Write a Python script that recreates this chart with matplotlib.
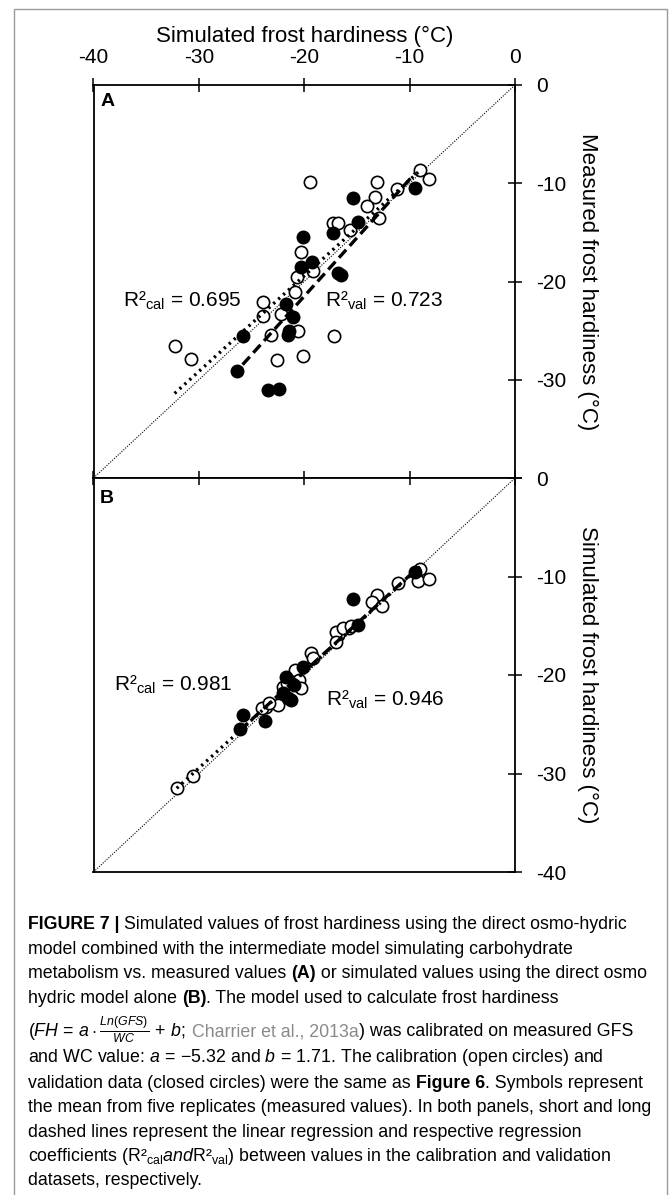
import numpy as np
import matplotlib
matplotlib.use("Agg")
import matplotlib.pyplot as plt
from matplotlib import font_manager
from matplotlib.patches import Rectangle

W, H, DPI = 669, 1195, 100

plt.rcParams["font.family"] = ["Liberation Sans", "DejaVu Sans"]
plt.rcParams["axes.unicode_minus"] = False
plt.rcParams["mathtext.fontset"] = "custom"
plt.rcParams["mathtext.rm"] = "Liberation Sans"
plt.rcParams["mathtext.it"] = "Liberation Sans:italic"
plt.rcParams["mathtext.bf"] = "Liberation Sans:bold"

# Panel A: intermediate carbohydrate model + osmo-hydric model vs measured
a_cal_x = [-19.5, -13.1, -13.3, -14.0, -11.2, -9.0, -8.2, -12.9, -17.25, -16.8,
           -15.7, -20.3, -19.2, -20.7, -20.9, -23.95, -23.95, -22.2, -23.2, -20.6,
           -17.2, -32.3, -30.75, -22.6, -20.15]
a_cal_y = [-9.9, -9.9, -11.4, -12.3, -10.6, -8.7, -9.6, -13.5, -14.0, -14.0,
           -14.8, -17.0, -18.9, -19.5, -21.1, -22.1, -23.5, -23.3, -25.4, -25.0,
           -25.5, -26.6, -27.9, -28.0, -27.6]
a_val_x = [-15.4, -14.9, -17.3, -20.15, -19.3, -20.3, -16.8, -16.5, -21.7, -21.1,
           -21.5, -21.4, -25.85, -26.4, -23.4, -22.4, -9.5]
a_val_y = [-11.5, -13.9, -15.1, -15.5, -18.0, -18.5, -19.1, -19.3, -22.3, -23.6,
           -25.4, -25.0, -25.5, -29.1, -31.0, -30.9, -10.45]

# Panel B: osmo-hydric model alone vs measured
b_cal_x = [-13.1, -13.6, -12.65, -11.1, -9.0, -9.2, -8.2, -16.8, -15.8, -17.0,
           -16.3, -15.6, -17.0, -19.4, -19.2, -20.85, -23.6, -22.45, -32.1, -30.6,
           -22.0, -21.6, -20.5, -20.3, -24.0, -23.3]
b_cal_y = [-11.85, -12.6, -13.0, -10.7, -9.2, -10.5, -10.3, -15.9, -15.2, -15.6,
           -15.2, -15.0, -16.6, -17.8, -18.3, -19.5, -23.2, -23.05, -31.5, -30.3,
           -21.2, -20.8, -20.5, -21.3, -23.4, -22.8]
b_val_x = [-15.35, -9.5, -14.9, -20.1, -21.75, -25.8, -26.1, -23.7, -21.5,
           -21.0, -22.0, -21.3]
b_val_y = [-12.3, -9.5, -14.9, -19.2, -20.2, -24.1, -25.5, -24.7, -22.3,
           -21.0, -21.8, -22.5]

# regression lines: slope, intercept, x range
a_cal_fit = (0.974, 0.07, -32.3, -9.0)
a_val_fit = (1.19, 2.3, -25.85, -9.5)
b_cal_fit = (0.974, -0.23, -32.1, -9.0)
b_val_fit = (0.976, -0.13, -26.1, -9.5)

a_r2 = ("0.695", "0.723")
b_r2 = ("0.981", "0.946")

ticks = [-40, -30, -20, -10, 0]
tick_labels = ["-40", "-30", "-20", "-10", "0"]

fig = plt.figure(figsize=(W / DPI, H / DPI), dpi=DPI)


def px_axes(left, top, right, bottom):
    return fig.add_axes([left / W, 1 - bottom / H, (right - left) / W, (bottom - top) / H])


ax_a = px_axes(93.5, 85, 515, 478)
ax_b = px_axes(93.5, 478, 515, 872)


def draw_panel(ax, cal_x, cal_y, val_x, val_y, cal_fit, val_fit):
    ax.set_xlim(-40, 0)
    ax.set_ylim(-40, 0)
    ax.plot([-40, 0], [-40, 0], color="black", lw=0.8, ls=(0, (1, 1.3)), zorder=1)
    ax.scatter(cal_x, cal_y, s=78, facecolors="white", edgecolors="black",
               linewidths=1.2, zorder=3)
    ax.scatter(val_x, val_y, s=78, facecolors="black", edgecolors="black",
               linewidths=1.2, zorder=3)
    for (k, b, x0, x1), ls in ((cal_fit, (0, (0.7, 1.3))), (val_fit, (0, (3.2, 1.6)))):
        xs = np.array([x0, x1])
        ax.plot(xs, k * xs + b, color="black", lw=2.4, ls=ls, zorder=4)
    for sp in ax.spines.values():
        sp.set_linewidth(1.3)
    ax.set_xticks(ticks)
    ax.tick_params(axis="both", direction="inout", length=10, width=1.1,
                   labelsize=15, left=False, bottom=False, labelleft=False,
                   labelbottom=False, top=True, right=True, labelright=True)
    ax.tick_params(axis="x", pad=8)
    ax.tick_params(axis="y", pad=10)


draw_panel(ax_a, a_cal_x, a_cal_y, a_val_x, a_val_y, a_cal_fit, a_val_fit)
draw_panel(ax_b, b_cal_x, b_cal_y, b_val_x, b_val_y, b_cal_fit, b_val_fit)

ax_a.tick_params(axis="x", labeltop=True)
ax_a.set_xticklabels(tick_labels)
ax_a.set_yticks(ticks, ["", "-30", "-20", "-10", "0"])
ax_b.set_yticks(ticks, tick_labels)

ax_a.xaxis.set_label_position("top")
ax_a.set_xlabel("Simulated frost hardiness (°C)", fontsize=16, labelpad=4)
for ax, lab in ((ax_a, "Measured frost hardiness (°C)"), (ax_b, "Simulated frost hardiness (°C)")):
    ax.yaxis.set_label_position("right")
    ax.set_ylabel(lab, fontsize=16, rotation=270, va="bottom", labelpad=8)

ax_a.text(0.016, 0.957, "A", transform=ax_a.transAxes, fontsize=14,
          fontweight="bold", va="center")
ax_b.text(0.016, 0.947, "B", transform=ax_b.transAxes, fontsize=14,
          fontweight="bold", va="center")

ax_a.text(-37.2, -22.6, r"R²$_{\mathrm{cal}}$ = " + a_r2[0], fontsize=15)
ax_a.text(-18.0, -22.6, r"R²$_{\mathrm{val}}$ = " + a_r2[1], fontsize=15)
ax_b.text(-38.1, -21.6, r"R²$_{\mathrm{cal}}$ = " + b_r2[0], fontsize=15)
ax_b.text(-17.9, -23.1, r"R²$_{\mathrm{val}}$ = " + b_r2[1], fontsize=15)

# grey frame around figure and caption
fig.add_artist(Rectangle((14 / W, -0.01), (667 - 14) / W, 1 - 9 / H + 0.01,
                         transform=fig.transFigure, fill=False,
                         edgecolor="#9a9a9a", lw=1.0))

# caption
try:
    font_manager.findfont("Liberation Sans Narrow", fallback_to_default=False)
    cap_family = ["Liberation Sans Narrow", "Liberation Sans"]
except ValueError:
    cap_family = ["Liberation Sans", "DejaVu Sans"]

renderer = fig.canvas.get_renderer()


def text_width(s, **kw):
    t = fig.text(0, 0, s, **kw)
    w = t.get_window_extent(renderer).width
    t.remove()
    return w


N, B, G = {}, {"fontweight": "bold"}, {"color": "#8a8a8a"}
caption = [
    [("FIGURE 7 | ", B), ("Simulated values of frost hardiness using the direct osmo-hydric", N)],
    [("model combined with the intermediate model simulating carbohydrate", N)],
    [("metabolism vs. measured values ", N), ("(A)", B),
     (" or simulated values using the direct osmo", N)],
    [("hydric model alone ", N), ("(B)", B), (". The model used to calculate frost hardiness", N)],
    [(r"($FH\,=\,a\cdot\frac{Ln(GFS)}{WC}\,+\,b$; ", N), ("Charrier et al., 2013a", G),
     (") was calibrated on measured GFS", N)],
    [(r"and WC value: $a\,=\,{-}5.32$ and $b\,=\,1.71$. The calibration (open circles) and", N)],
    [("validation data (closed circles) were the same as ", N), ("Figure 6", B),
     (". Symbols represent", N)],
    [("the mean from five replicates (measured values). In both panels, short and long", N)],
    [("dashed lines represent the linear regression and respective regression", N)],
    [(r"coefficients (R²$_{\mathrm{cal}}$$\mathit{and}$R²$_{\mathrm{val}}$) between values in the calibration and validation", N)],
    [("datasets, respectively.", N)],
]
baselines = [929, 953.5, 978, 1003, 1036.5, 1062.5, 1087.5, 1112.5, 1137, 1161, 1185]

ref_w = text_width(caption[7][0][0], family=cap_family, fontsize=10)
cap_fs = 10 * 627 / ref_w

for line, yb in zip(caption, baselines):
    x = 28.0
    for seg, style in line:
        kw = dict(family=cap_family, fontsize=cap_fs, **style)
        fig.text(x / W, 1 - yb / H, seg, va="baseline", ha="left", **kw)
        x += text_width(seg + "x", **kw) - text_width("x", **kw)

fig.savefig("out.png", dpi=DPI)
